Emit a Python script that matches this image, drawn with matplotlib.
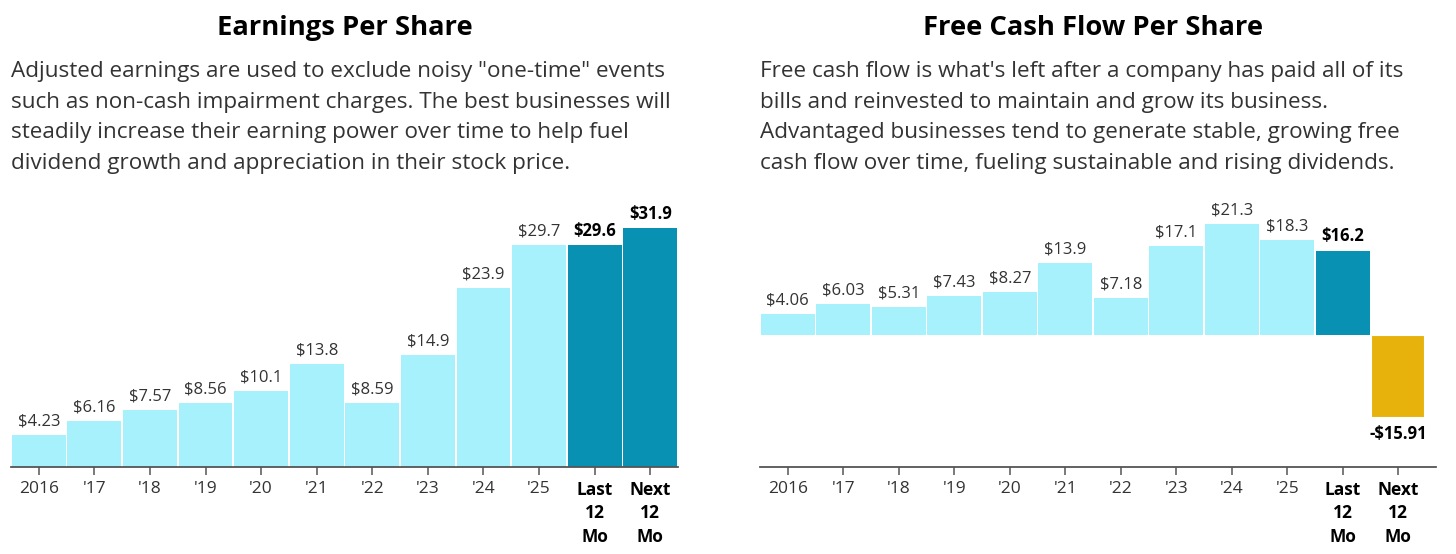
import matplotlib.pyplot as plt
import numpy as np

plt.rcParams['font.family'] = ['Open Sans', 'DejaVu Sans']

# dados
categorias = ['2016', "'17", "'18", "'19", "'20", "'21", "'22", "'23", "'24", "'25",
              'Last\n12\nMo', 'Next\n12\nMo']
eps = [4.23, 6.16, 7.57, 8.56, 10.1, 13.8, 8.59, 14.9, 23.9, 29.7, 29.6, 31.9]
eps_rotulos = ['$4.23', '$6.16', '$7.57', '$8.56', '$10.1', '$13.8', '$8.59',
               '$14.9', '$23.9', '$29.7', '$29.6', '$31.9']
fcf = [4.06, 6.03, 5.31, 7.43, 8.27, 13.9, 7.18, 17.1, 21.3, 18.3, 16.2, -15.91]
fcf_rotulos = ['$4.06', '$6.03', '$5.31', '$7.43', '$8.27', '$13.9', '$7.18',
               '$17.1', '$21.3', '$18.3', '$16.2', '-$15.91']

titulo_eps = 'Earnings Per Share'
texto_eps = ('Adjusted earnings are used to exclude noisy "one-time" events\n'
             'such as non-cash impairment charges. The best businesses will\n'
             'steadily increase their earning power over time to help fuel\n'
             'dividend growth and appreciation in their stock price.')
titulo_fcf = 'Free Cash Flow Per Share'
texto_fcf = ("Free cash flow is what's left after a company has paid all of its\n"
             'bills and reinvested to maintain and grow its business.\n'
             'Advantaged businesses tend to generate stable, growing free\n'
             'cash flow over time, fueling sustainable and rising dividends.')

# cores
claro = '#A6F1FB'
escuro = '#0891B2'
ouro = '#E8B20C'
texto_cor = '#333333'
eixo_cor = '#555555'

W, H = 1456, 554
fig = plt.figure(figsize=(W / 100, H / 100), dpi=100)


def px(x0, y0, x1, y1):
    # converte pixels (topo-esquerda) para fração da figura
    return [x0 / W, 1 - y1 / H, (x1 - x0) / W, (y1 - y0) / H]


def estilo(ax, n):
    for lado in ['top', 'right', 'left']:
        ax.spines[lado].set_visible(False)
    ax.spines['bottom'].set_color(eixo_cor)
    ax.spines['bottom'].set_linewidth(1.3)
    ax.set_yticks([])
    ax.set_xticks(range(n))
    ax.set_xticklabels(categorias, fontsize=12.5, color=texto_cor, linespacing=1.38)
    ax.tick_params(axis='x', length=6, width=1.1, color=eixo_cor, pad=4)
    for i, t in enumerate(ax.get_xticklabels()):
        if i >= n - 2:
            t.set_fontweight('bold')
            t.set_color('black')


n = len(categorias)
x = np.arange(n)

# GRAFICO 1: EPS
ax1 = fig.add_axes(px(11, 205, 678, 467))
cores1 = [claro] * (n - 2) + [escuro, escuro]
ax1.bar(x, eps, width=0.97, color=cores1)
ax1.set_xlim(-0.5, n - 0.5)
ax1.set_ylim(0, 35)
estilo(ax1, n)
for i, (v, r) in enumerate(zip(eps, eps_rotulos)):
    negrito = i >= n - 2
    ax1.annotate(r, (x[i], v), xytext=(0, 4), textcoords='offset points',
                 ha='center', va='bottom', fontsize=12,
                 fontweight='bold' if negrito else 'normal',
                 color='black' if negrito else texto_cor, clip_on=False)

# GRAFICO 2: FCF
ax2 = fig.add_axes(px(760, 205, 1436, 467))
cores2 = [claro] * (n - 2) + [escuro, ouro]
barras2 = ax2.bar(x, fcf, width=0.97, color=cores2)
# pequeno espaço entre a linha zero e a barra negativa
barras2[-1].set_edgecolor('white')
barras2[-1].set_linewidth(1.5)
ax2.set_xlim(-0.5, n - 0.32)
ax2.set_ylim(-25.4, 25)
estilo(ax2, n)
for i, (v, r) in enumerate(zip(fcf, fcf_rotulos)):
    negrito = i >= n - 2
    if v >= 0:
        ax2.annotate(r, (x[i], v), xytext=(0, 4), textcoords='offset points',
                     ha='center', va='bottom', fontsize=12,
                     fontweight='bold' if negrito else 'normal',
                     color='black' if negrito else texto_cor)
    else:
        ax2.annotate(r, (x[i], v), xytext=(0, -5), textcoords='offset points',
                     ha='center', va='top', fontsize=12, fontweight='bold',
                     color='black')

# titulos e textos
fig.text(345 / W, 1 - 28 / H, titulo_eps, ha='center', va='center',
         fontsize=19.7, fontweight='bold', color='black')
fig.text(11 / W, 1 - 61 / H, texto_eps, ha='left', va='top',
         fontsize=16.2, color=texto_cor, linespacing=1.6)
fig.text(1093 / W, 1 - 28 / H, titulo_fcf, ha='center', va='center',
         fontsize=19.7, fontweight='bold', color='black')
fig.text(760 / W, 1 - 61 / H, texto_fcf, ha='left', va='top',
         fontsize=16.2, color=texto_cor, linespacing=1.6)

plt.savefig('out.png', dpi=100)
